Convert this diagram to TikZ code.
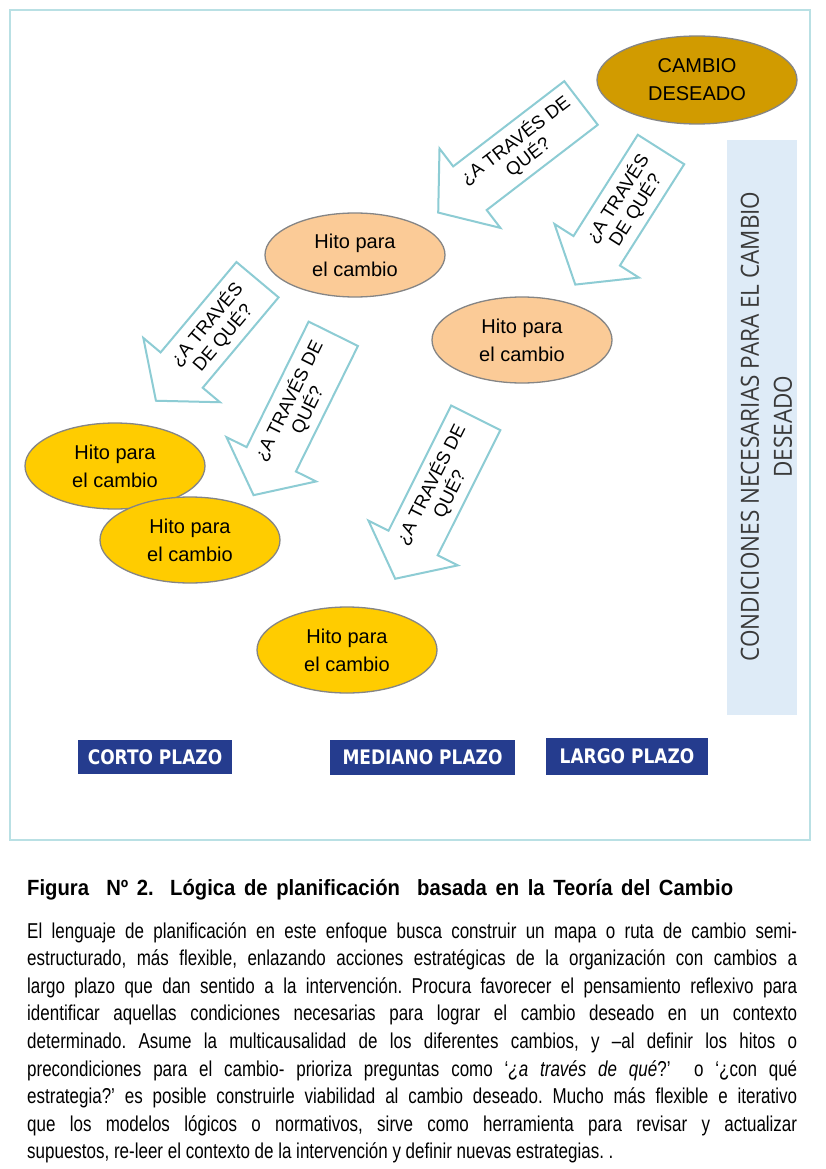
\documentclass[tikz,border=0pt]{standalone}
\usepackage{fontspec}
\setmainfont{Liberation Sans}
\newfontfamily\narrowf[FakeStretch=0.79]{Liberation Sans}
\newfontfamily\titlef[FakeStretch=0.92]{Liberation Sans}
\newfontfamily\condf[FakeStretch=0.9]{Open Sans}
\newfontfamily\labelf[FakeStretch=0.85]{DejaVu Sans}
\usetikzlibrary{shapes.geometric}
\definecolor{frameC}{HTML}{B9E0E4}
\definecolor{arrowC}{HTML}{8DCCD4}
\definecolor{goldC}{HTML}{D19B00}
\definecolor{peachC}{HTML}{FBCB97}
\definecolor{yellowC}{HTML}{FFCC00}
\definecolor{edgeC}{HTML}{858585}
\definecolor{condC}{HTML}{DEEBF7}
\definecolor{navyC}{HTML}{253C8E}
\definecolor{condT}{HTML}{3A3A3A}
\tikzset{
  hito/.style={ellipse, draw=edgeC, line width=1.3pt, minimum width=180, minimum height=86,
    inner sep=0, align=center, font=\fontsize{20}{28}\selectfont},
  qline/.style={draw=arrowC, fill=white, line width=2pt, line join=miter},
  qtext/.style={align=center, inner sep=0, font=\fontsize{18.5}{21}\selectfont},
  plazo/.style={fill=navyC, text=white, inner sep=0, font=\labelf\bfseries\fontsize{20}{24}\selectfont},
  bodyline/.style={anchor=base west, inner sep=0, font=\narrowf\frenchspacing\fontsize{21.5}{28}\selectfont}
}
\newcommand{\qarrow}[6]{%
  \begin{scope}[shift={#2}, rotate=#3]
    \draw[qline] (0,-27.5) -- (-#4,-27.5) -- (-#4,-50) -- ({-#4-40},0) -- (-#4,50) -- (-#4,27.5) -- (0,27.5) -- cycle;
    \node[qtext, transform shape] (#1) at ({-#4/2-#6},0) {#5};
  \end{scope}}
\begin{document}
\begin{tikzpicture}[x=1pt,y=-1pt]
\useasboundingbox (0,0) rectangle (825,1169);
\fill[white] (0,0) rectangle (825,1169);
% frame
\draw[frameC, line width=2.2pt] (10,10) rectangle (810,840);
% conditions box
\node[fill=condC, minimum width=70, minimum height=575, inner sep=0] (cond) at (762,427.5) {};
\node[rotate=90, align=center, inner sep=0, text=condT, font=\condf\fontsize{25}{33}\selectfont] (condtxt) at (766.5,426.5)
  {CONDICIONES NECESARIAS PARA EL CAMBIO\\DESEADO};
% arrows
\qarrow{q1}{(581,103)}{37.5}{140}{¿A TRAVÉS DE\\QUÉ?}{5}
\qarrow{q2}{(661,149.5)}{57.6}{120}{¿A TRAVÉS\\DE QUÉ?}{5}
\qarrow{q3}{(257.5,279.7)}{50}{118}{¿A TRAVÉS\\DE QUÉ?}{8}
\qarrow{q4}{(333.3,333.8)}{63.7}{140}{¿A TRAVÉS DE\\QUÉ?}{10}
\qarrow{q5}{(475.8,417.8)}{63.4}{140}{¿A TRAVÉS DE\\QUÉ?}{10}
% ellipses
\node[hito, fill=goldC, minimum width=200, minimum height=88] (goal) at (697,80) {CAMBIO\\DESEADO};
\node[hito, fill=peachC, minimum height=84] (h1) at (355,255) {Hito para\\el cambio};
\node[hito, fill=peachC] (h2) at (522,340) {Hito para\\el cambio};
\node[hito, fill=yellowC] (h3) at (115,466) {Hito para\\el cambio};
\node[hito, fill=yellowC] (h4) at (190,540) {Hito para\\el cambio};
\node[hito, fill=yellowC] (h5) at (347,650) {Hito para\\el cambio};
% time labels
\node[plazo, minimum width=154, minimum height=34] (corto) at (155,757) {CORTO PLAZO};
\node[plazo, minimum width=185, minimum height=35] (mediano) at (422.5,757.5) {MEDIANO PLAZO};
\node[plazo, minimum width=162, minimum height=37] (largo) at (627,756.5) {LARGO PLAZO};
% caption
\node[anchor=base west, inner sep=0, font=\titlef\bfseries\fontsize{22}{24}\selectfont] (title) at (27,895)
  {\makebox[706pt][s]{Figura\ \ Nº 2. Lógica de planificación\ \ basada en la Teoría del Cambio}};
\node[bodyline] (l1) at (27,938) {\makebox[770pt][s]{El lenguaje de planificación en este enfoque busca construir un mapa o ruta de cambio semi-}};
\node[bodyline] (l2) at (27,965.6) {\makebox[770pt][s]{estructurado, más flexible, enlazando acciones estratégicas de la organización con cambios a}};
\node[bodyline] (l3) at (27,993.2) {\makebox[770pt][s]{largo plazo que dan sentido a la intervención. Procura favorecer el pensamiento reflexivo para}};
\node[bodyline] (l4) at (27,1020.8) {\makebox[770pt][s]{identificar aquellas condiciones necesarias para lograr el cambio deseado en un contexto}};
\node[bodyline] (l5) at (27,1048.4) {\makebox[770pt][s]{determinado. Asume la multicausalidad de los diferentes cambios, y –al definir los hitos o}};
\node[bodyline] (l6) at (27,1076) {\makebox[770pt][s]{precondiciones para el cambio- prioriza preguntas como ‘\textit{¿a través de qué}?’\ \ o ‘¿con qué}};
\node[bodyline] (l7) at (27,1103.6) {\makebox[770pt][s]{estrategia?’ es posible construirle viabilidad al cambio deseado. Mucho más flexible e iterativo}};
\node[bodyline] (l8) at (27,1131.2) {\makebox[770pt][s]{que los modelos lógicos o normativos, sirve como herramienta para revisar y actualizar}};
\node[bodyline] (l9) at (27,1158.8) {supuestos, re-leer el contexto de la intervención y definir nuevas estrategias. .};
\end{tikzpicture}
\end{document}
